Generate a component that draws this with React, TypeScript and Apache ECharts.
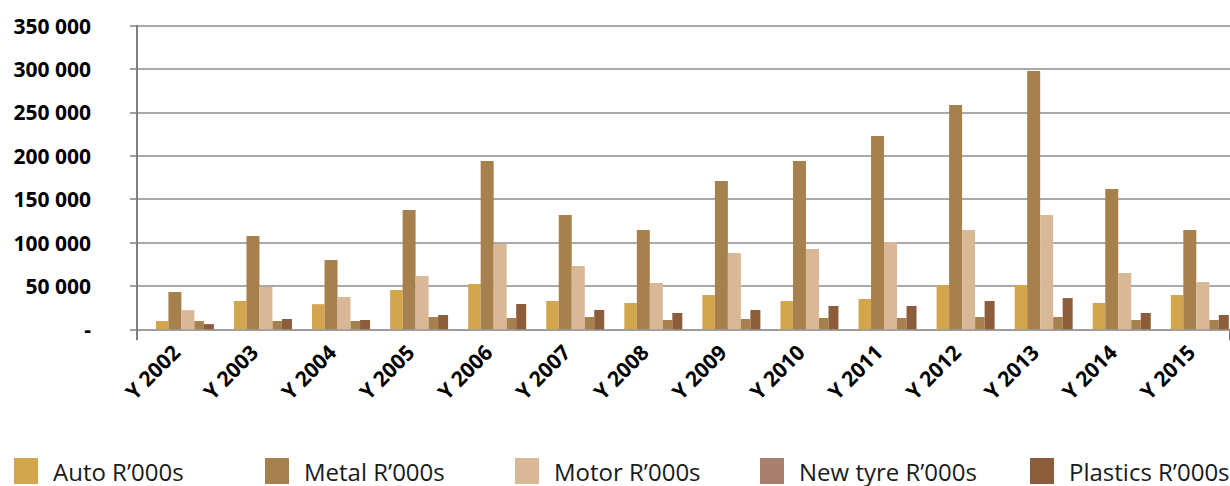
import React, { useEffect, useRef } from "react";
import * as echarts from "echarts";

const categories = ["Y 2002","Y 2003","Y 2004","Y 2005","Y 2006","Y 2007","Y 2008","Y 2009","Y 2010","Y 2011","Y 2012","Y 2013","Y 2014","Y 2015"];
const auto = [9500, 32600, 29000, 45300, 52200, 32600, 30300, 39500, 32600, 34900, 51000, 51000, 30300, 39500];
const metal = [43000, 107500, 79900, 137500, 194000, 131800, 114500, 171000, 194000, 222900, 258600, 297800, 161700, 114500];
const motor = [22000, 48800, 37200, 61400, 98300, 73000, 53400, 88000, 92600, 100600, 114500, 131800, 64900, 54500];
const newTyre = [9500, 9600, 9600, 14200, 13000, 14200, 10700, 11900, 13000, 13000, 14200, 14200, 10700, 10700];
const plastics = [6000, 11900, 10700, 16500, 29200, 22300, 18800, 22300, 26900, 26900, 32600, 36000, 18800, 16500];
const seriesNames = ["Auto R\u2019000s", "Metal R\u2019000s", "Motor R\u2019000s", "New tyre R\u2019000s", "Plastics R\u2019000s"];
const yTicks = [0, 50000, 100000, 150000, 200000, 250000, 300000, 350000];

const FONT = "'Open Sans', 'Noto Sans', sans-serif";

export default function App() {
  const ref = useRef<HTMLDivElement>(null);
  useEffect(() => {
    if (!ref.current) return;
    const chart = echarts.init(ref.current, null, { renderer: "svg" });
    const colors = ["#d3a64e", "#a6814e", "#d8b896", "#a6814e", "#8b5d3b"];
    const legendColors = ["#d3a64e", "#a6814e", "#d8b896", "#a77f6c", "#8b5d3b"];
    const widths = [12.5, 13, 13, 9.5, 10];
    const dataSets = [auto, metal, motor, newTyre, plastics];
    const legendLefts = [14, 265, 515, 760, 1030];
    const option: any = {
      animation: false,
      backgroundColor: "#ffffff",
      grid: { left: 137, right: -3.2, top: 25.7, bottom: 156.7, containLabel: false },
      xAxis: {
        type: "category",
        data: categories,
        axisLine: { show: true, lineStyle: { color: "#9a9a9a", width: 1.5 } },
        axisTick: {
          show: true,
          alignWithLabel: false,
          interval: (i: number) => i === 0,
          length: 11,
          lineStyle: { color: "#7f7f7f", width: 2 },
        },
        axisLabel: {
          rotate: 45,
          margin: 19,
          interval: 0,
          fontFamily: FONT,
          fontWeight: "bold",
          fontSize: 21,
          color: "#000000",
        },
      },
      yAxis: {
        type: "value",
        min: 0,
        max: 350000,
        interval: 50000,
        axisLine: { show: true, lineStyle: { color: "#7f7f7f", width: 2 } },
        axisTick: { show: true, length: 7, lineStyle: { color: "#7f7f7f", width: 1.5 } },
        splitLine: { show: true, lineStyle: { color: "#8c8c8c", width: 1.5 } },
        axisLabel: {
          margin: 46,
          fontFamily: FONT,
          fontWeight: "bold",
          fontSize: 21,
          color: "#000000",
          formatter: (v: number) => {
            if (!yTicks.includes(v)) return "";
            if (v === 0) return "-";
            return String(v).replace(/\B(?=(\d{3})+(?!\d))/g, " ");
          },
        },
      },
      legend: seriesNames.map((n, i) => ({
        left: legendLefts[i],
        top: 458,
        icon: "rect",
        itemWidth: 24,
        itemHeight: 26,
        padding: 0,
        selectedMode: false,
        data: [{ name: n, itemStyle: { color: legendColors[i] } }],
        textStyle: { fontFamily: FONT, fontSize: 24, lineHeight: 22, color: "#1a1a1a", padding: [0, 0, 0, 10] },
      })),
      series: [
        {
          name: "spacer",
          type: "bar",
          data: categories.map(() => null),
          barWidth: 17.7,
          barGap: "0%",
          silent: true,
          itemStyle: { color: "rgba(0,0,0,0)" },
        },
        ...seriesNames.map((n, i) => ({
          name: n,
          type: "bar",
          data: dataSets[i],
          barWidth: widths[i],
          barGap: "0%",
          itemStyle: { color: colors[i] },
        })),
      ],
    };
    chart.setOption(option);
    return () => chart.dispose();
  }, []);
  return (
    <div
      ref={ref}
      style={{ position: "absolute", left: 0, top: 0, width: 1230, height: 486 }}
    />
  );
}
